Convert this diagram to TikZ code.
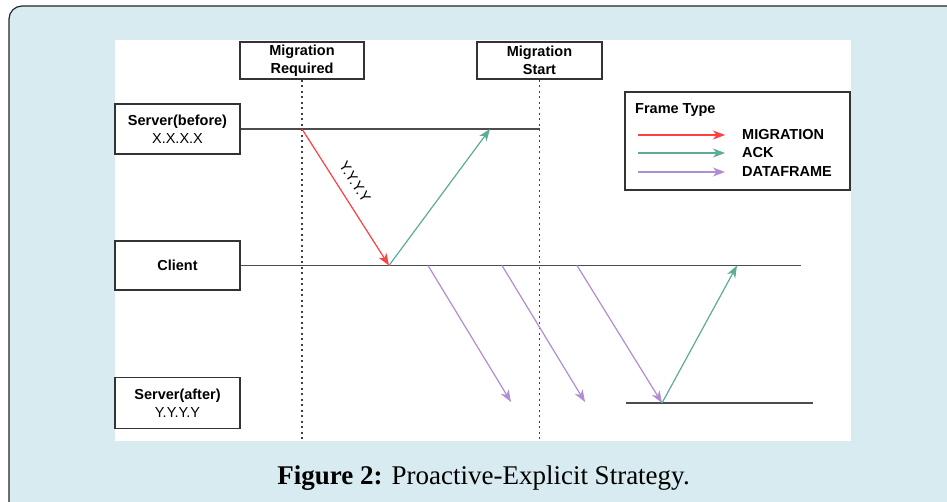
\documentclass[tikz,border=0pt]{standalone}
\usepackage{fontspec}
\setmainfont{Liberation Serif}
\setsansfont{Liberation Sans}
\usetikzlibrary{arrows.meta}
\definecolor{bgblue}{RGB}{215,235,241}
\definecolor{migred}{RGB}{255,64,64}
\definecolor{ackgreen}{RGB}{92,172,152}
\definecolor{datapurple}{RGB}{178,140,212}

\begin{document}
\begin{tikzpicture}[x=1pt,y=-1pt,
    every node/.style={font=\sffamily\fontsize{14.5}{18}\selectfont,inner sep=0pt},
    box/.style={draw=black!80,line width=1.3pt,align=center},
    life/.style={draw=black!70,line width=1.7pt},
    marker/.style={draw=black!75,line width=1.6pt,dash pattern=on 2pt off 3.5pt},
    msg/.style={line width=1.2pt,-{Stealth[length=12pt,width=9pt,inset=3.5pt]}}]
                \useasboundingbox (0,0) rectangle (947,502);
                \clip (0,0) rectangle (947,502);
                \draw[draw=black!85,fill=bgblue,line width=1.2pt,rounded corners=13pt] (9,6) rectangle (990,540);
                \fill[white] (115,40) rectangle (851,441);

                % phases
                \node[box,minimum width=124,minimum height=37] (req) at (302,60.5) {\textbf{Migration}\\\textbf{Required}};
                \node[box,minimum width=125,minimum height=37] (start) at (539.5,60.5) {\textbf{Migration}\\\textbf{Start}};
                \coordinate (reqend) at (302,441);
                \coordinate (startend) at (539.5,441);
                \draw[marker] (req.south) -- (reqend);
                \draw[marker] (start.south) -- (startend);

                % hosts
                \node[box,minimum width=125,minimum height=50] (before) at (177.5,129) {\textbf{Server(before)}\\X.X.X.X};
                \node[box,minimum width=125,minimum height=49] (client) at (177.5,265.5) {\textbf{Client}};
                \node[box,minimum width=125,minimum height=51] (after) at (177.5,403) {\textbf{Server(after)}\\Y.Y.Y.Y};

                \coordinate (beforeend) at (539.5,129);
                \coordinate (clientend) at (801,265.5);
                \coordinate (afterstart) at (626,403);
                \coordinate (afterend) at (813,403);
                \draw[life] (before.east) -- (beforeend);
                \draw[life] (client.east) -- (clientend);
                \draw[life] (afterstart) -- (afterend);

                % frames
                \coordinate (m0) at (302,129);
                \coordinate (m1) at (389,265.5);
                \coordinate (a1) at (490,129);
                \coordinate (d1s) at (428,265.5);
                \coordinate (d1e) at (511,402);
                \coordinate (d2s) at (502,265.5);
                \coordinate (d2e) at (585,402);
                \coordinate (d3s) at (577,265.5);
                \coordinate (d3e) at (662,403);
                \coordinate (a2) at (737,265.5);

                \draw[msg,migred] (m0) -- (m1);
                \node[rotate=-57] (newaddr) at (355,182) {Y.Y.Y.Y};
                \draw[msg,ackgreen] (m1) -- (a1);
                \draw[msg,datapurple] (d1s) -- (d1e);
                \draw[msg,datapurple] (d2s) -- (d2e);
                \draw[msg,datapurple] (d3s) -- (d3e);
                \draw[msg,ackgreen] (d3e) -- (a2);

                % legend
                \node[box,minimum width=225,minimum height=98] (legend) at (737.5,141) {};
                \node[anchor=west] (legendtitle) at (635,110) {\textbf{Frame Type}};
                \coordinate (k1s) at (638,135);
                \coordinate (k2s) at (638,153);
                \coordinate (k3s) at (638,172);
                \node[anchor=west] (k1) at (742,135) {\textbf{MIGRATION}};
                \node[anchor=west] (k2) at (742,153) {\textbf{ACK}};
                \node[anchor=west] (k3) at (742,172) {\textbf{DATAFRAME}};
                \draw[msg,migred] (k1s) -- ([xshift=-17pt]k1.west);
                \draw[msg,ackgreen] (k2s) -- ([xshift=-17pt]k2.west);
                \draw[msg,datapurple] (k3s) -- ([xshift=-17pt]k3.west);

                \node (caption) at (483.5,478) {\rmfamily\fontsize{27}{30}\selectfont\textbf{Figure 2:} Proactive-Explicit Strategy.};
            \end{tikzpicture}
\end{document}
